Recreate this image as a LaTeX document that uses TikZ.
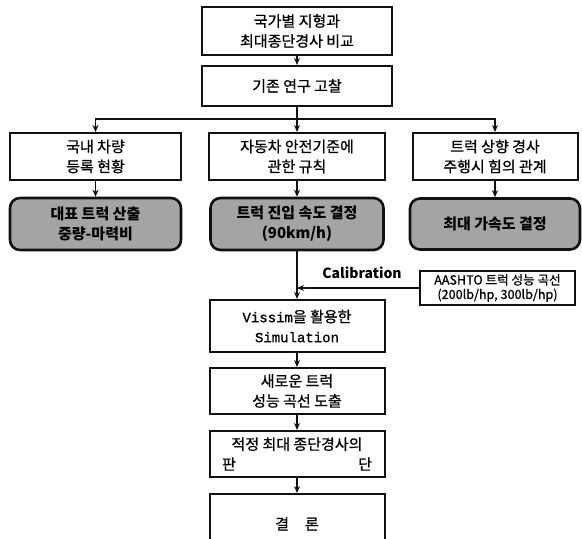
\documentclass[tikz,border=0pt]{standalone}
\usepackage{fontspec}
\setmainfont{Noto Sans CJK KR}[UprightFeatures={FakeBold=0.8}]
\newfontfamily\latinmono{Liberation Mono}[FakeBold=0.8]
\usetikzlibrary{arrows.meta, positioning}
\definecolor{shadegray}{HTML}{A4A4A4}
\definecolor{inkline}{HTML}{111111}

\tikzset{
  stepbox/.style={draw=inkline, line width=1pt, align=center, inner sep=0pt,
    font=\fontsize{7.5}{10}\selectfont},
  shadebox/.style={stepbox, fill=shadegray, rounded corners=5pt, line width=1.3pt,
    font=\bfseries\fontsize{7.5}{10}\selectfont},
  link/.style={draw=inkline, line width=0.8pt, -{Stealth[length=3.5pt,width=3pt]}},
}

\begin{document}
\begin{tikzpicture}[x=0.5pt, y=-0.5pt]
  % page frame in pixel units (582 x 539)
  \useasboundingbox (0,0) rectangle (582,539);

  % main column, top
  \node[stepbox, minimum width=95pt, minimum height=24pt] (compare) at (297,31) {국가별 지형과\\최대종단경사 비교};
  \node[stepbox, minimum width=95pt, minimum height=20pt] (review) at (297,86) {기존 연구 고찰};

  % three branches
  \node[stepbox, minimum width=85.5pt, minimum height=23.5pt] (fleet) at (95.5,156.5) {국내 차량\\등록 현황};
  \node[stepbox, minimum width=88pt, minimum height=23.5pt] (rule) at (297,156.5) {자동차 안전기준에\\관한 규칙};
  \node[stepbox, minimum width=82.5pt, minimum height=23.5pt] (grade) at (495,156.5) {트럭 상향 경사\\주행시 힘의 관계};

  \node[shadebox, minimum width=85.5pt, minimum height=26pt] (truck) at (95.5,224) {대표 트럭 산출\\중량-마력비};
  \node[shadebox, minimum width=86.5pt, minimum height=26pt] (speed) at (297,224) {트럭 진입 속도 결정\\(90km/h)};
  \node[shadebox, minimum width=85pt, minimum height=25.5pt] (accel) at (495,224) {최대 가속도 결정};

  % calibration input
  \node[stepbox, minimum width=77.5pt, minimum height=14pt, inner ysep=1.5pt, font=\fontsize{6.3}{7.2}\selectfont] (aashto) at (497.5,288) {AASHTO 트럭 성능 곡선\\(200lb/hp, 300lb/hp)};

  % main column, bottom
  \node[stepbox, minimum width=87.5pt, minimum height=26pt] (sim) at (297,326) {{\latinmono\fontsize{7}{10}\selectfont Vissim}을 활용한\\{\latinmono\fontsize{7}{10}\selectfont Simulation}};
  \node[stepbox, minimum width=87.5pt, minimum height=23pt] (curve) at (297,391) {새로운 트럭\\성능 곡선 도출};
  \node[stepbox, minimum width=87.5pt, minimum height=23pt] (judge) at (297,454) {적정 최대 종단경사의\\\makebox[75pt]{판\hfill 단}};
  \node[stepbox, minimum width=87.5pt, minimum height=30pt] (conclude) at (297,524) {결\hspace{8pt}론};

  % connectors
  \coordinate (split) at (297,119);
  \draw[link] (compare) -- (review);
  \draw[link] (review) -- (rule);
  \draw[link] (split) -| (fleet);
  \draw[link] (split) -| (grade);
  \draw[link] (fleet) -- (truck);
  \draw[link] (rule) -- (speed);
  \draw[link] (grade) -- (accel);
  \draw[link] (speed) -- (sim);
  \draw[link] (aashto.west) -- node[above=1pt, xshift=2pt, font=\bfseries\fontsize{7}{8}\selectfont] {Calibration} (aashto.west -| speed.south);
  \draw[link] (sim) -- (curve);
  \draw[link] (curve) -- (judge);
  \draw[link] (judge) -- (conclude);
\end{tikzpicture}
\end{document}
